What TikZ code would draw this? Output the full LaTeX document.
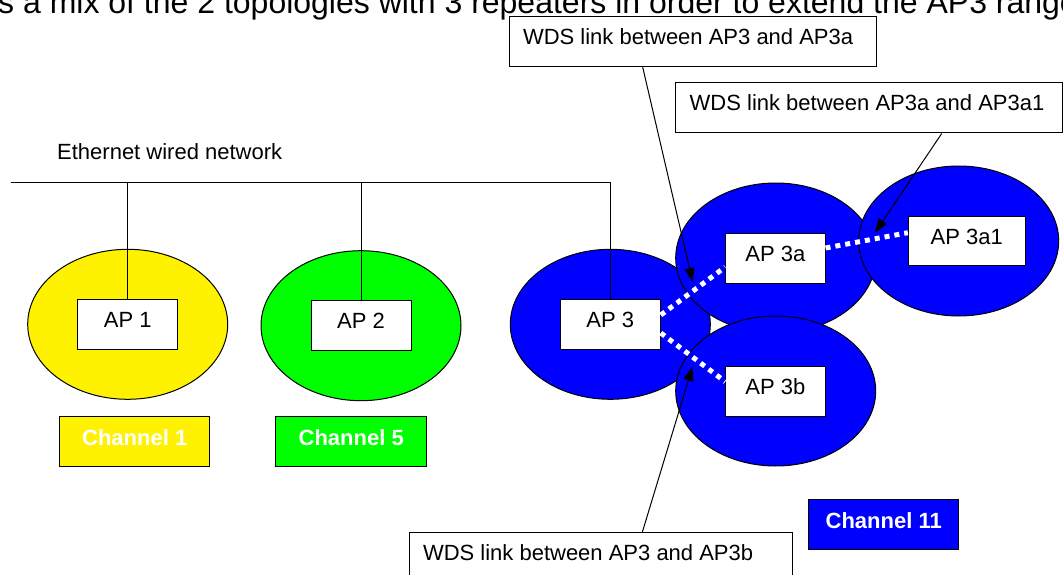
\documentclass[tikz,border=0pt]{standalone}
\usepackage{fontspec}
\setmainfont{Liberation Sans}
\usetikzlibrary{shapes.geometric,arrows.meta,calc}
\begin{document}
\begin{tikzpicture}[x=1pt,y=-1pt,
  cell/.style={ellipse,draw=black,line width=1pt,minimum width=200pt,minimum height=150pt,inner sep=0pt},
  apbox/.style={rectangle,draw=black,fill=white,line width=1pt,minimum width=100pt,minimum height=50pt,inner sep=0pt,text height=16pt,text depth=10pt,font=\fontsize{22}{26}\selectfont},
  chan/.style={rectangle,draw=black,line width=1pt,minimum width=150.5pt,minimum height=50pt,inner sep=0pt,text height=16pt,text depth=8pt,text=white,font=\fontsize{22}{26}\selectfont\bfseries},
  callout/.style={rectangle,draw=black,fill=white,line width=1pt,minimum height=50pt,inner xsep=14pt,inner ysep=0pt,text height=16pt,text depth=10pt,font=\fontsize{22}{26}\selectfont},
  wire/.style={draw=black,line width=1pt},
  wds/.style={draw=white,line width=5pt,dash pattern=on 5pt off 5pt},
  pointer/.style={draw=black,line width=1pt,-{Triangle[length=14pt,width=10pt]}}
]
\useasboundingbox (0,0) rectangle (1063,575);
\clip (0,0) rectangle (1063,575);
\fill[white] (0,0) rectangle (1063,575);

% title (clipped at top)
\node[anchor=base west,inner sep=0pt,font=\fontsize{32}{38}\selectfont] (title) at (-2,14)
  {s a mix of the 2 topologies with 3 repeaters in order to extend the AP3 range};

% coverage cells
\node[cell,fill=yellow] (c1) at (127.7,324.3) {};
\node[cell,fill={rgb,255:red,0;green,255;blue,0}] (c2) at (361,325.7) {};
\node[cell,fill={rgb,255:red,0;green,0;blue,255}] (c3) at (610.3,324.3) {};
\node[cell,fill={rgb,255:red,0;green,0;blue,255}] (c3a) at (775.7,258) {};
\node[cell,fill={rgb,255:red,0;green,0;blue,255}] (c3b) at (775.7,391) {};
\node[cell,fill={rgb,255:red,0;green,0;blue,255}] (c3a1) at (958.7,241) {};

% wired network
\node[anchor=base west,inner sep=0pt,font=\fontsize{22}{26}\selectfont] (ethlabel) at (57,160) {Ethernet wired network};
\coordinate (ethL) at (10.7,182.7);
\coordinate (ethR) at (610.3,182.7);

\node[apbox] (ap1) at (127.7,324.3) {AP 1};
\node[apbox] (ap2) at (361,325.7) {AP 2};
\node[apbox] (ap3) at (610.3,324.3) {AP 3};
\node[apbox,minimum width=99.3pt] (ap3a) at (775.4,258) {AP 3a};
\node[apbox,minimum width=99.3pt] (ap3b) at (775.4,391) {AP 3b};
\node[apbox,minimum width=116.7pt,minimum height=49.3pt] (ap3a1) at (966.7,241.3) {AP 3a1};

\draw[wire] (ethL) -- (ethR) -- (ap3.north);
\draw[wire] (ap1.north |- ethL) -- (ap1.north);
\draw[wire] (ap2.north |- ethL) -- (ap2.north);

% WDS links
\draw[wds] ($(ap3.east)+(0,-9.3)$) -- ($(ap3a.west)+(0,9)$);
\draw[wds] ($(ap3.east)+(0,8.7)$) -- ($(ap3b.west)+(0,-9.3)$);
\draw[wds] ($(ap3a.east)+(0,-10)$) -- ($(ap3a1.west)+(0,-8.6)$);

% channel labels
\node[chan,fill=yellow] (ch1) at (134.7,441) {Channel 1};
\node[chan,fill={rgb,255:red,0;green,255;blue,0}] (ch5) at (351.2,441) {Channel 5};
\node[chan,fill={rgb,255:red,0;green,0;blue,255},text height=15.4pt] (ch11) at (883.7,524.3) {Channel 11};

% callouts
\node[callout] (co1) at (692.5,41.7) {\makebox[339pt][l]{WDS link between AP3 and AP3a}};
\node[callout] (co2) at (868.85,108) {\makebox[358.3pt][l]{WDS link between AP3a and AP3a1}};
\node[callout,text height=15.3pt,text depth=10.7pt] (co3) at (600.65,557.7) {\makebox[355.3pt][l]{WDS link between AP3 and AP3b}};

\coordinate (t1) at (692.7,282);
\coordinate (t2) at (875,232.7);
\coordinate (t3) at (692.5,366.7);
\draw[pointer] (co1.south west -| 642.7,0) -- (t1);
\draw[pointer] (co2.south west -| 941.7,0) -- (t2);
\draw[pointer] (co3.north west -| 642.3,0) -- (t3);
\end{tikzpicture}
\end{document}
